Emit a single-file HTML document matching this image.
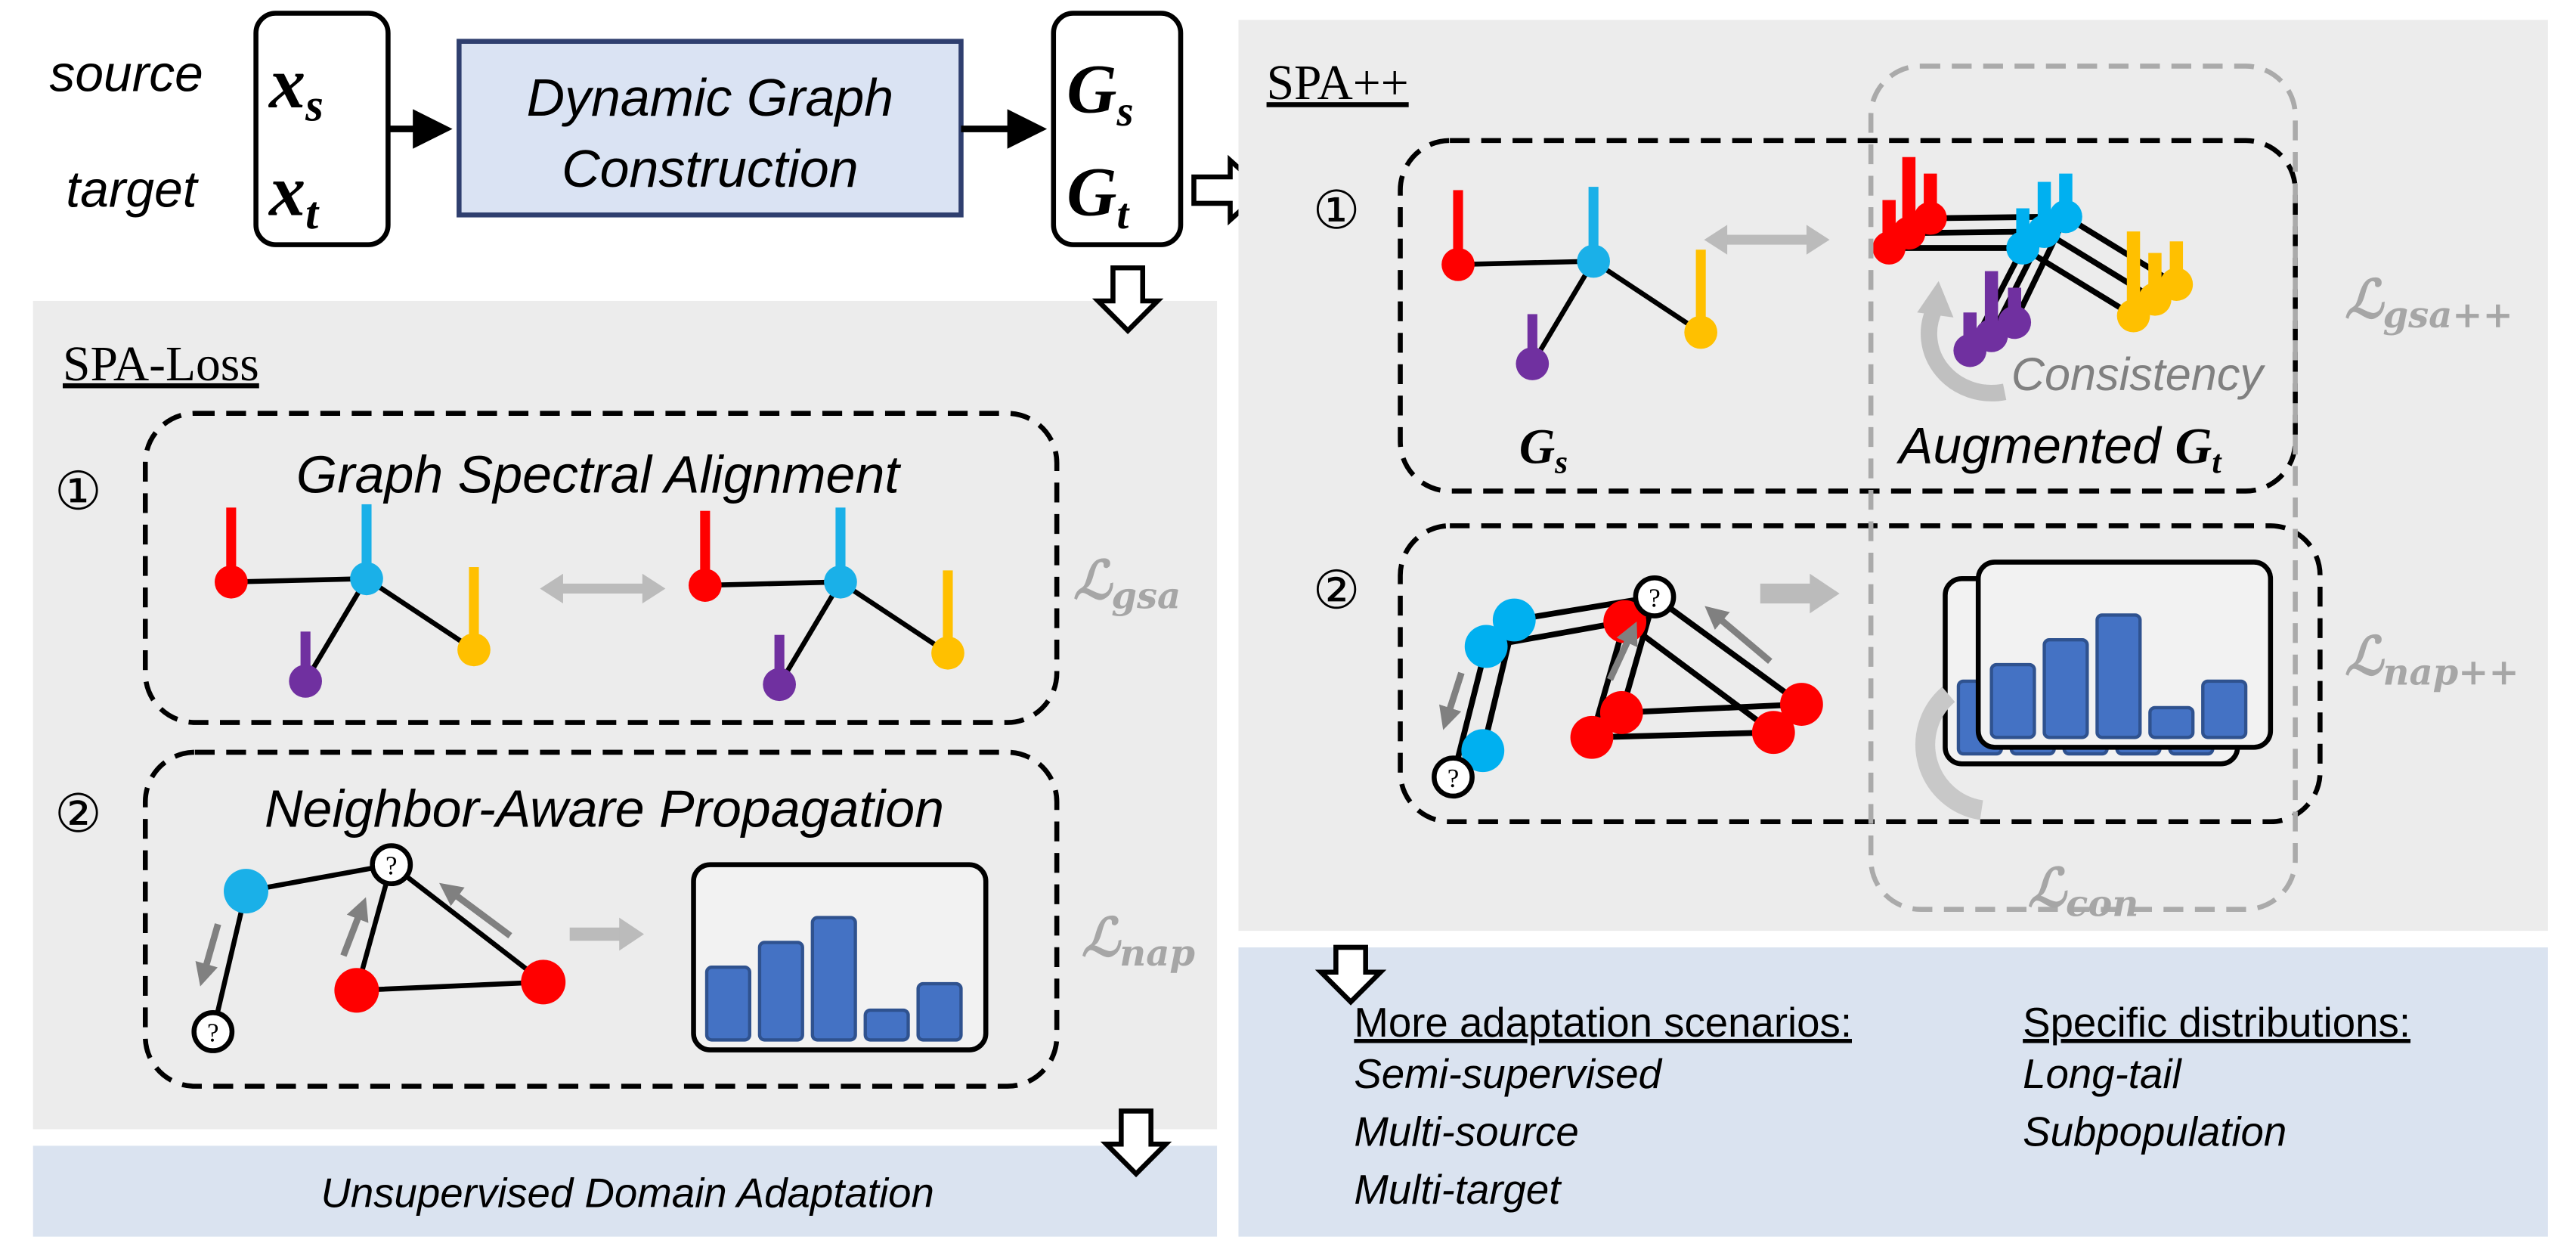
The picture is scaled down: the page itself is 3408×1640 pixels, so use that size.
<!DOCTYPE html>
<html><head><meta charset="utf-8"><style>
html,body{margin:0;padding:0;background:#fff;}
svg{display:block;}
text{font-family:"Liberation Sans","DejaVu Sans",sans-serif;}
.it{font-style:italic;}
.m{font-family:"Liberation Serif","DejaVu Serif",serif;font-style:italic;font-weight:bold;}
.L{font-family:"DejaVu Serif","Liberation Serif",serif;fill:#a6a6a6;font-style:italic;font-weight:bold;}
.q{font-family:"Liberation Serif",serif;}
</style></head><body>
<svg width="3408" height="1640" viewBox="0 0 1560 750" preserveAspectRatio="none" xmlns="http://www.w3.org/2000/svg">
<defs>
<marker id="ah" markerWidth="6" markerHeight="6" refX="5" refY="3" orient="auto" markerUnits="strokeWidth"><path d="M0,0 L6,3 L0,6 z" fill="#000"/></marker>
<marker id="ga" markerWidth="14" markerHeight="14" refX="4" refY="7" orient="auto" markerUnits="userSpaceOnUse" viewBox="0 0 14 14"><path d="M0,0 L14,7 L0,14 z" fill="#808080"/></marker>
<g id="hdown"><path d="M-9,0 h18 v20 h9 l-18,18 l-18,-18 h9 z" fill="#fff" stroke="#000" stroke-width="3"/></g>
<g id="dbl"><path d="M0,0 h60" stroke="#bbb" stroke-width="6"/><path d="M-8,0 l14,-9 v18 z M68,0 l-14,-9 v18 z" fill="#bbb"/></g>
<g id="gr"><path d="M140,352 L222,350 M222,350 L185,412 M222,350 L287,393" stroke="#000" stroke-width="3" fill="none"/>
<rect x="137" y="307" width="6" height="45" fill="#f00"/><rect x="219" y="305" width="6" height="45" fill="#1ab0e8"/><rect x="182" y="382" width="6" height="30" fill="#7030a0"/><rect x="284" y="343" width="6" height="50" fill="#ffc000"/>
<circle cx="140" cy="352" r="10" fill="#f00"/><circle cx="222" cy="350" r="10" fill="#1ab0e8"/><circle cx="185" cy="412" r="10" fill="#7030a0"/><circle cx="287" cy="393" r="10" fill="#ffc000"/></g>
<g id="hist"><rect x="0" y="0" width="177" height="112" rx="10" fill="#f2f2f2" stroke="#000" stroke-width="3"/>
<g fill="#4472c4" stroke="#2f528f" stroke-width="2"><rect x="8" y="62" width="26" height="44" rx="3"/><rect x="40" y="47" width="26" height="59" rx="3"/><rect x="72" y="32" width="26" height="74" rx="3"/><rect x="104" y="88" width="26" height="18" rx="3"/><rect x="136" y="72" width="26" height="34" rx="3"/></g></g>
</defs>
<rect width="1560" height="750" fill="#fff"/>
<!-- top -->
<text x="30" y="55" class="it" font-size="31">source</text>
<text x="40" y="125" class="it" font-size="31">target</text>
<rect x="155" y="8" width="80" height="140" rx="12" fill="#fff" stroke="#000" stroke-width="3"/>
<text x="163" y="65" class="m" font-size="44">x<tspan font-size="28" dy="8">s</tspan></text>
<text x="163" y="130" class="m" font-size="44">x<tspan font-size="28" dy="8">t</tspan></text>
<path d="M235,78 H270" stroke="#000" stroke-width="4" marker-end="url(#ah)"/>
<rect x="278" y="25" width="304" height="105" fill="#dae3f3" stroke="#2f3f6f" stroke-width="3"/>
<text x="430" y="70" class="it" font-size="32" text-anchor="middle">Dynamic Graph</text>
<text x="430" y="113" class="it" font-size="32" text-anchor="middle">Construction</text>
<path d="M582,78 H630" stroke="#000" stroke-width="4" marker-end="url(#ah)"/>
<rect x="638" y="8" width="77" height="140" rx="12" fill="#fff" stroke="#000" stroke-width="3"/>
<text x="646" y="68" class="m" font-size="42">G<tspan font-size="26" dy="8">s</tspan></text>
<text x="646" y="130" class="m" font-size="42">G<tspan font-size="26" dy="8">t</tspan></text>
<path d="M723,107 h22 v-10 l20,18 l-20,18 v-10 h-22 z" fill="#fff" stroke="#000" stroke-width="3"/>
<!-- left panel -->
<rect x="20" y="182" width="717" height="501" fill="#ececec"/>
<use href="#hdown" x="683" y="162"/>
<text x="38" y="230" font-size="30" style="font-family:'Liberation Serif',serif" text-decoration="underline">SPA-Loss</text>
<rect x="88" y="250" width="552" height="187" rx="30" fill="none" stroke="#000" stroke-width="3" stroke-dasharray="12,7"/>
<text x="33" y="308" font-size="32">①</text>
<text x="362" y="298" class="it" font-size="32" text-anchor="middle">Graph Spectral Alignment</text>
<use href="#gr"/>
<use href="#gr" x="287" y="2"/>
<use href="#dbl" x="335" y="356"/>
<text x="650" y="362" class="L" font-size="32">ℒ<tspan font-size="22" dy="6">gsa</tspan></text>
<rect x="88" y="455" width="552" height="202" rx="30" fill="none" stroke="#000" stroke-width="3" stroke-dasharray="12,7"/>
<text x="33" y="503" font-size="32">②</text>
<text x="366" y="500" class="it" font-size="32" text-anchor="middle">Neighbor-Aware Propagation</text>
<path d="M149,539 L237,523 L216,599 L329,594 L237,523 M149,539 L129,624" stroke="#000" stroke-width="3" fill="none"/>
<g stroke="#808080" stroke-width="4" fill="none">
<path d="M132,559 L124,587" marker-end="url(#ga)"/>
<path d="M208,578 L218,552" marker-end="url(#ga)"/>
<path d="M309,566 L274,540" marker-end="url(#ga)"/>
</g>
<circle cx="149" cy="539" r="13.5" fill="#1ab0e8"/><circle cx="216" cy="599" r="13.5" fill="#f00"/><circle cx="329" cy="594" r="13.5" fill="#f00"/>
<circle cx="237" cy="523" r="11.5" fill="#fff" stroke="#000" stroke-width="3"/><text x="237" y="529" font-size="16" text-anchor="middle" class="q">?</text>
<circle cx="129" cy="624" r="11.5" fill="#fff" stroke="#000" stroke-width="3"/><text x="129" y="630" font-size="16" text-anchor="middle" class="q">?</text>
<path d="M345,565 h32" stroke="#bbb" stroke-width="8"/><path d="M375,555 l15,10 l-15,10 z" fill="#bbb"/>
<use href="#hist" x="420" y="523"/>
<text x="655" y="578" class="L" font-size="32">ℒ<tspan font-size="22" dy="6">nap</tspan></text>
<rect x="20" y="693" width="717" height="55" fill="#dae3f0"/>
<text x="380" y="730" class="it" font-size="25" text-anchor="middle">Unsupervised Domain Adaptation</text>
<use href="#hdown" x="688" y="672"/>
<!-- right panel -->
<rect x="750" y="12" width="793" height="551" fill="#ececec"/>
<text x="767" y="60" font-size="30" style="font-family:'Liberation Serif',serif" text-decoration="underline">SPA++</text>
<rect x="848" y="85" width="542" height="212" rx="30" fill="none" stroke="#000" stroke-width="3" stroke-dasharray="12,7"/>
<text x="795" y="138" font-size="32">①</text>
<use href="#gr" x="743" y="-192"/>
<text x="920" y="280" class="m" font-size="30">G<tspan font-size="20" dy="6">s</tspan></text>
<use href="#dbl" x="1040" y="145"/>
<!-- augmented graph: 3 stacked copies -->
<g stroke="#000" stroke-width="3.5" fill="none">
<path d="M1169,132 L1251,131 M1251,131 L1220,195 M1251,131 L1318,172"/>
<path d="M1156,141 L1238,140 M1238,140 L1206,203 M1238,140 L1305,181"/>
<path d="M1144,150 L1225,150 M1225,150 L1193,212 M1225,150 L1292,191"/>
</g>
<g>
<rect x="1165" y="105" width="8" height="27" fill="#f00"/><rect x="1152" y="95" width="8" height="46" fill="#f00"/><rect x="1140" y="121" width="8" height="29" fill="#f00"/>
<rect x="1247" y="105" width="8" height="26" fill="#00b0f0"/><rect x="1234" y="110" width="8" height="30" fill="#00b0f0"/><rect x="1221" y="126" width="8" height="24" fill="#00b0f0"/>
<rect x="1216" y="174" width="8" height="21" fill="#7030a0"/><rect x="1202" y="164" width="8" height="39" fill="#7030a0"/><rect x="1189" y="189" width="8" height="23" fill="#7030a0"/>
<rect x="1314" y="146" width="8" height="26" fill="#ffc000"/><rect x="1301" y="153" width="8" height="28" fill="#ffc000"/><rect x="1288" y="140" width="8" height="51" fill="#ffc000"/>
<circle cx="1169" cy="132" r="10" fill="#f00"/><circle cx="1156" cy="141" r="10" fill="#f00"/><circle cx="1144" cy="150" r="10" fill="#f00"/>
<circle cx="1251" cy="131" r="10" fill="#00b0f0"/><circle cx="1238" cy="140" r="10" fill="#00b0f0"/><circle cx="1225" cy="150" r="10" fill="#00b0f0"/>
<circle cx="1220" cy="195" r="10" fill="#7030a0"/><circle cx="1206" cy="203" r="10" fill="#7030a0"/><circle cx="1193" cy="212" r="10" fill="#7030a0"/>
<circle cx="1318" cy="172" r="10" fill="#ffc000"/><circle cx="1305" cy="181" r="10" fill="#ffc000"/><circle cx="1292" cy="191" r="10" fill="#ffc000"/>
</g>
<path d="M1214,237 A38,36 0 0,1 1172,186" fill="none" stroke="#c0c0c0" stroke-width="10"/>
<path d="M1161,189 L1174,170 L1183,192 z" fill="#c0c0c0"/>
<text x="1218" y="236" class="it" font-size="28" fill="#808080">Consistency</text>
<text x="1150" y="280" class="it" font-size="31">Augmented <tspan class="m">G</tspan><tspan class="m" font-size="20" dy="6">t</tspan></text>
<text x="1420" y="192" class="L" font-size="32">ℒ<tspan font-size="22" dy="6">gsa++</tspan></text>
<rect x="848" y="318" width="557" height="179" rx="30" fill="none" stroke="#000" stroke-width="3" stroke-dasharray="12,7"/>
<text x="795" y="368" font-size="32">②</text>
<g stroke="#000" stroke-width="3.5" fill="none">
<path d="M917,375 L1002,361 M900,391 L984,376 M917,375 L898,454 M900,391 L880,470"/>
<path d="M1002,361 L982,431 M984,376 L964,446 M1002,361 L1091,426 M984,376 L1074,443 M982,431 L1091,426 M964,446 L1074,443"/>
</g>
<g stroke="#808080" stroke-width="4" fill="none">
<path d="M885,407 L877,432" marker-end="url(#ga)"/>
<path d="M1072,400 L1040,373" marker-end="url(#ga)"/>
</g>
<circle cx="917" cy="375" r="13" fill="#00b0f0"/><circle cx="900" cy="391" r="13" fill="#00b0f0"/><circle cx="898" cy="454" r="13" fill="#00b0f0"/>
<circle cx="984" cy="376" r="13" fill="#f00"/>
<circle cx="982" cy="431" r="13" fill="#f00"/><circle cx="964" cy="446" r="13" fill="#f00"/><circle cx="1091" cy="426" r="13" fill="#f00"/><circle cx="1074" cy="443" r="13" fill="#f00"/>
<path d="M975,411 L987,385" stroke="#808080" stroke-width="4" marker-end="url(#ga)"/>
<circle cx="1002" cy="361" r="11.5" fill="#fff" stroke="#000" stroke-width="3"/><text x="1002" y="367" font-size="16" text-anchor="middle" class="q">?</text>
<circle cx="880" cy="470" r="11.5" fill="#fff" stroke="#000" stroke-width="3"/><text x="880" y="476" font-size="16" text-anchor="middle" class="q">?</text>
<path d="M1066,359 h32" stroke="#bbb" stroke-width="12"/><path d="M1096,347 l18,12 l-18,12 z" fill="#bbb"/>
<use href="#hist" x="1178" y="350"/>
<use href="#hist" x="1198" y="340"/>
<path d="M1180,420 A40,40 0 0,0 1200,490" fill="none" stroke="#c8c8c8" stroke-width="12"/>
<text x="1420" y="408" class="L" font-size="32">ℒ<tspan font-size="22" dy="6">nap++</tspan></text>
<rect x="1133" y="40" width="257" height="510" rx="30" fill="none" stroke="#aaa" stroke-width="3" stroke-dasharray="12,7"/>
<text x="1228" y="548" class="L" font-size="32">ℒ<tspan font-size="22" dy="6">con</tspan></text>
<rect x="750" y="573" width="793" height="175" fill="#dae3f0"/>
<path d="M809,573 h18 v15 h9 l-18,18 l-18,-18 h9 z" fill="#fff" stroke="#000" stroke-width="3"/>
<text x="820" y="627" font-size="25" text-decoration="underline">More adaptation scenarios:</text>
<text x="820" y="658" class="it" font-size="25">Semi-supervised</text>
<text x="820" y="693" class="it" font-size="25">Multi-source</text>
<text x="820" y="728" class="it" font-size="25">Multi-target</text>
<text x="1225" y="627" font-size="25" text-decoration="underline">Specific distributions:</text>
<text x="1225" y="658" class="it" font-size="25">Long-tail</text>
<text x="1225" y="693" class="it" font-size="25">Subpopulation</text>
</svg>
</body></html>
